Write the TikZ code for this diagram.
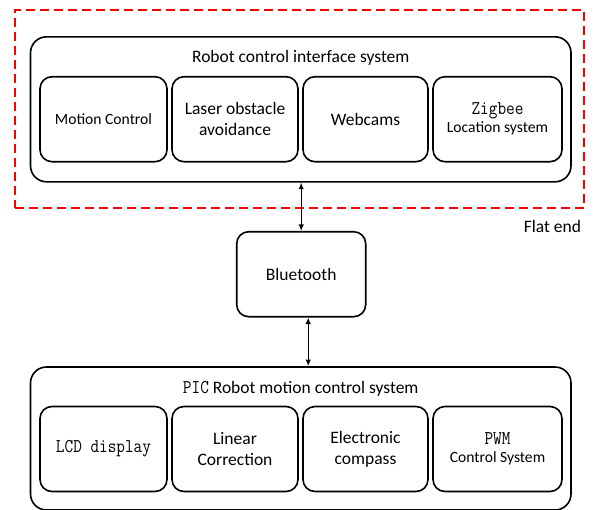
\documentclass[tikz,border=0pt]{standalone}
\usepackage{fontspec}
\setmainfont{Carlito}
\newfontfamily\narrowmono[FakeStretch=0.86]{Latin Modern Mono}
\usetikzlibrary{arrows.meta}
\newcommand{\bodyfont}{\fontsize{17.5}{21}\selectfont}
\newcommand{\smallbody}{\fontsize{15.6}{19}\selectfont}
\newcommand{\monofont}{\narrowmono\fontsize{19.5}{21}\selectfont}
\begin{document}
\begin{tikzpicture}[x=1pt,y=-1pt,
  outerbox/.style={draw,line width=1.6pt,rounded corners=16pt,inner sep=0pt},
  unitbox/.style={draw,line width=1.6pt,rounded corners=12pt,align=center,
    inner sep=0pt,minimum height=85pt,font=\bodyfont},
  linkarrow/.style={{Latex[length=6.5pt,width=5.5pt]}-{Latex[length=6.5pt,width=5.5pt]},
    line width=1.4pt},
  zone/.style={draw=red,line width=1.8pt,dash pattern=on 9pt off 5pt,inner sep=0pt},
  caption/.style={font=\bodyfont,anchor=base,inner sep=0pt}
]
\path[use as bounding box] (0,0) rectangle (596,509);
\clip (0,0) rectangle (596,509);

% dashed zone of the flat end
\node[zone,minimum width=569pt,minimum height=198pt] (flat) at (299.5,109) {};
\node[caption] (flatlabel) at (552.5,232) {Flat end};

% robot control interface system
\node[outerbox,minimum width=540.5pt,minimum height=145pt] (ui) at (300.75,109.3) {};
\node[caption] (uititle) at (300.75,62) {Robot control interface system};
\node[unitbox,minimum width=127pt,font=\smallbody] (mc) at (103.5,119.2) {Motion Control};
\node[unitbox,minimum width=126pt] (laser) at (235,119.2) {Laser obstacle\\avoidance};
\node[unitbox,minimum width=125pt] (cam) at (365.5,119.2) {Webcams};
\node[unitbox,minimum width=129pt] (zig) at (497.5,119.2)
  {{\monofont Zigbee}\\[-3pt]{\smallbody Location system}};

% bluetooth link
\node[unitbox,minimum width=129pt] (bt) at (301.2,274.2) {Bluetooth};

% PIC robot motion control system
\node[outerbox,minimum width=540.5pt,minimum height=143pt] (pic) at (300.75,438.5) {};
\node[caption] (pictitle) at (300.75,393.3) {{\monofont PIC} Robot motion control system};
\node[unitbox,minimum width=127pt] (lcd) at (103.5,449) {\monofont LCD display};
\node[unitbox,minimum width=126pt] (lin) at (235,449) {Linear\\Correction};
\node[unitbox,minimum width=125pt] (comp) at (365.5,449) {Electronic\\compass};
\node[unitbox,minimum width=129pt] (pwm) at (497.5,449)
  {{\monofont PWM}\\[-3pt]{\smallbody Control System}};

% connectors
\draw[linkarrow] (ui.south -| bt.north) -- (bt.north);
\draw[linkarrow] ([xshift=7pt]bt.south) -- ([xshift=7pt]bt.south |- pic.north);
\end{tikzpicture}
\end{document}
